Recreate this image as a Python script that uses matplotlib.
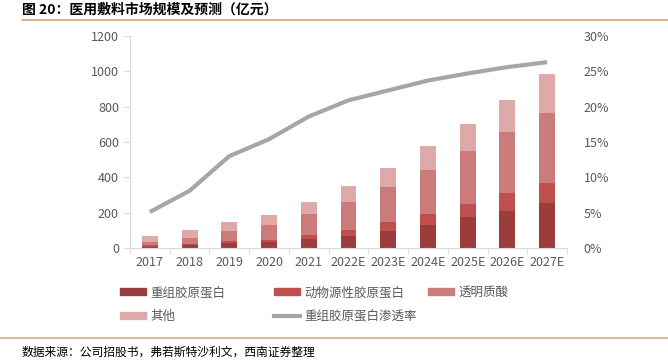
import matplotlib.pyplot as plt
import matplotlib.lines as mlines
import matplotlib.patches as mpatches
from matplotlib.ticker import FuncFormatter

plt.rcParams['font.family'] = ['Noto Sans CJK SC', 'DejaVu Sans']

# 数据（亿元）
years = ['2017', '2018', '2019', '2020', '2021', '2022E', '2023E',
         '2024E', '2025E', '2026E', '2027E']
recomb = [5, 15, 26, 32, 52, 69, 97, 133, 173, 211, 255]
animal = [10, 10, 15, 15, 23, 34, 50, 57, 75, 98, 115]
hyaluronic = [18, 30, 57, 81, 117, 156, 198, 250, 299, 348, 396]
others = [35, 45, 50, 56, 71, 90, 108, 137, 156, 183, 217]
penetration = [5.1, 8.1, 13.0, 15.4, 18.6, 20.9, 22.3, 23.7, 24.7, 25.6, 26.3]

names = ['重组胶原蛋白', '动物源性胶原蛋白', '透明质酸', '其他']
colors = ['#9C3D3D', '#C0504D', '#CC7B7B', '#DDA9A9']
line_color = '#A6A6A6'
text_color = '#595959'
axis_color = '#D9D9D9'

fig = plt.figure(figsize=(6.68, 3.62), dpi=100)
ax = fig.add_axes([130 / 668, 114 / 362, 437 / 668, 212 / 362])

x = list(range(len(years)))
bottom = [0] * len(years)
for vals, name, c in zip([recomb, animal, hyaluronic, others], names, colors):
    ax.bar(x, vals, width=0.4, bottom=bottom, color=c, label=name, zorder=2)
    bottom = [b + v for b, v in zip(bottom, vals)]

ax.set_xlim(-0.5, len(years) - 0.5)
ax.set_ylim(0, 1200)
ax.set_yticks(range(0, 1201, 200))
ax.set_xticks(x)
ax.set_xticklabels(years)
ax.set_xticks([i + 0.5 for i in range(-1, len(years))], minor=True)
ax.tick_params(axis='x', which='major', length=0, pad=6, labelsize=9, labelcolor=text_color)
ax.tick_params(axis='x', which='minor', length=4, color=axis_color, direction='out')
ax.tick_params(axis='y', length=4, color=axis_color, labelsize=9, labelcolor=text_color, pad=4)

for s in ['top', 'right']:
    ax.spines[s].set_visible(False)
ax.spines['left'].set_color(axis_color)
ax.spines['bottom'].set_color(axis_color)

# 渗透率 右轴
ax2 = ax.twinx()
ax2.plot(x, penetration, color=line_color, lw=3, solid_capstyle='butt', zorder=3)
ax2.set_ylim(0, 30)
ax2.set_yticks(range(0, 31, 5))
ax2.yaxis.set_major_formatter(FuncFormatter(lambda v, p: f'{v:.0f}%'))
ax2.tick_params(axis='y', length=0, labelsize=9, labelcolor=text_color, pad=12)
for s in ['top', 'right', 'left', 'bottom']:
    ax2.spines[s].set_visible(False)

# 图例
patches = [mpatches.Patch(color=c, label=n) for c, n in zip(colors, names)]
line_h = mlines.Line2D([], [], color=line_color, lw=3, label='重组胶原蛋白渗透率')
leg_kw = dict(frameon=False, fontsize=9, labelcolor=text_color, handlelength=2.1,
              handleheight=0.5, handletextpad=0.3, labelspacing=0.85,
              borderaxespad=0, borderpad=0)
top = 1 - 286 / 362
fig.legend(handles=[patches[0], patches[3]], loc='upper left',
           bbox_to_anchor=(120 / 668, top), **leg_kw)
fig.legend(handles=[patches[1], line_h], loc='upper left',
           bbox_to_anchor=(274 / 668, top), **leg_kw)
fig.legend(handles=[patches[2]], loc='upper left',
           bbox_to_anchor=(428 / 668, top), **leg_kw)

# 标题与来源
fig.text(22 / 668, 1 - 10 / 362, '图 20：医用敷料市场规模及预测（亿元）',
         fontsize=10, fontweight='bold', color='#000000', va='center')
fig.add_artist(mlines.Line2D([22 / 668, 1], [1 - 19.5 / 362] * 2, color='#D4A86A', lw=1.2))
fig.add_artist(mlines.Line2D([0, 1], [1 - 338 / 362] * 2, color='#D4B07A', lw=1.2))
fig.text(22 / 668, 1 - 352 / 362, '数据来源：公司招股书，弗若斯特沙利文，西南证券整理',
         fontsize=8.5, style='italic', color='#000000', va='center')

fig.savefig('out.png', dpi=100)
